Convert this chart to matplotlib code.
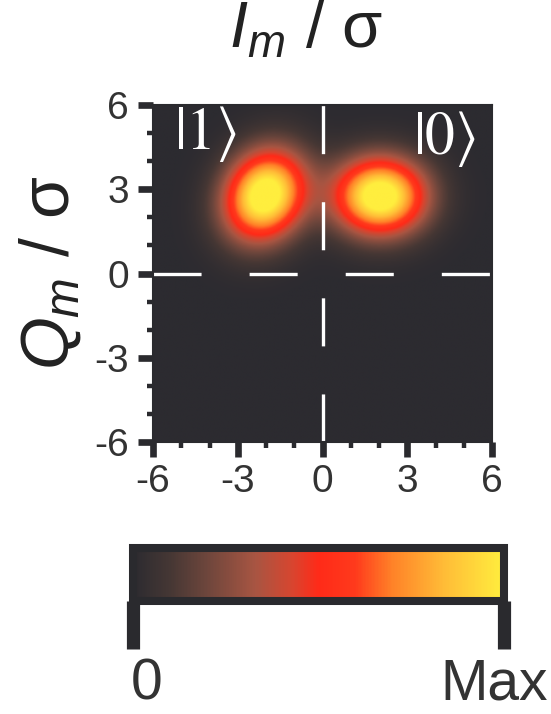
import numpy as np
import matplotlib
matplotlib.use("Agg")
import matplotlib.pyplot as plt
from matplotlib.colors import LinearSegmentedColormap

plt.rcParams['font.family'] = ['Liberation Sans', 'DejaVu Sans']
plt.rcParams['axes.unicode_minus'] = False
plt.rcParams['mathtext.fontset'] = 'custom'
plt.rcParams['mathtext.rm'] = 'Liberation Sans'
plt.rcParams['mathtext.it'] = 'Liberation Sans:italic'
plt.rcParams['lines.scale_dashes'] = False

# ---- data ----
state_labels = [r'$|1\rangle$', r'$|0\rangle$']
label_x = [-5.25, 3.2]
label_y = [4.97, 4.79]
blob_cx = [-2.04, 2.04]
blob_cy = [2.79, 2.76]
blob_sx = [0.99, 1.12]
blob_sy = [1.10, 0.94]
blob_rho = [0.15, 0.0]
peak_level = 0.88
ticks = [-6, -3, 0, 3, 6]
tick_labels = ['-6', '-3', '0', '3', '6']
cbar_labels = ['0', 'Max']

cmap_pos = [0.0, 0.1, 0.2, 0.33, 0.43, 0.5, 0.6, 0.7, 0.84, 1.0]
cmap_cols = ['#2c2b30', '#463734', '#6e463c', '#a85542', '#d8452f', '#ff2a18',
             '#ff3a1c', '#ff8228', '#ffbc37', '#ffee3e']

dark = '#2a2a2e'
cmap = LinearSegmentedColormap.from_list('iq', list(zip(cmap_pos, cmap_cols)))

# ---- density ----
g = np.linspace(-6, 6, 400)
X, Y = np.meshgrid(g, g)
Z = np.zeros_like(X)
for cx, cy, sx, sy, r in zip(blob_cx, blob_cy, blob_sx, blob_sy, blob_rho):
    dx = (X - cx) / sx
    dy = (Y - cy) / sy
    Z += np.exp(-(dx**2 - 2 * r * dx * dy + dy**2) / (2 * (1 - r**2)))
Z = Z / Z.max()

fig = plt.figure(figsize=(5.51, 7.14), dpi=100)
ax = fig.add_axes([153/551, 1 - 442/714, 339/551, 337/714])
im = ax.imshow(Z, origin='lower', extent=[-6, 6, -6, 6], cmap=cmap,
               vmin=0, vmax=peak_level, interpolation='bilinear', aspect='auto')

ax.axhline(0, color='white', lw=2.4, dashes=(34.6, 34.6), dash_capstyle='butt')
ax.axvline(0, color='white', lw=2.4, dashes=(34.6, 34.6), dash_capstyle='butt')

for s, x, y in zip(state_labels, label_x, label_y):
    ax.text(x, y, s, color='white', fontsize=43, ha='left', va='center',
            math_fontfamily='stix')

ax.set_xlim(-6, 6)
ax.set_ylim(-6, 6)
ax.set_xticks(ticks)
ax.set_xticklabels(tick_labels)
ax.set_yticks(ticks)
ax.set_yticklabels(tick_labels)
ax.set_xticks(np.arange(-6, 7, 1), minor=True)
ax.set_yticks(np.arange(-6, 7, 1), minor=True)
ax.tick_params(which='major', direction='out', length=10.5, width=4.8, color=dark,
               labelsize=28, labelcolor='#333333')
ax.tick_params(axis='x', which='major', pad=5)
ax.tick_params(axis='y', which='major', pad=7)
ax.tick_params(which='minor', direction='out', length=4.5, width=3.2, color=dark)
for sp in ax.spines.values():
    sp.set_color(dark)
    sp.set_linewidth(1.5)

ax.set_title(r'$I_m$ / σ', fontsize=47, color='#222222', pad=41, x=0.45)
ax.set_ylabel(r'$Q_m$ / σ', fontsize=49, color='#222222', labelpad=8)

# ---- colorbar ----
cax = fig.add_axes([133/551, 1 - 601/714, 371/551, 53/714])
cb = fig.colorbar(im, cax=cax, orientation='horizontal', ticks=[0, peak_level])
cb.outline.set_linewidth(5.8)
cb.outline.set_edgecolor(dark)
cax.minorticks_off()
cax.tick_params(direction='out', length=34.5, width=9.5, color=dark,
                labelbottom=False)

fig.text(131/551, 1 - 700/714, cbar_labels[0], fontsize=41, color='#333333',
         ha='left', va='baseline')
fig.text(548/551, 1 - 700/714, cbar_labels[1], fontsize=41, color='#333333',
         ha='right', va='baseline')

fig.savefig('out.png', dpi=100)
